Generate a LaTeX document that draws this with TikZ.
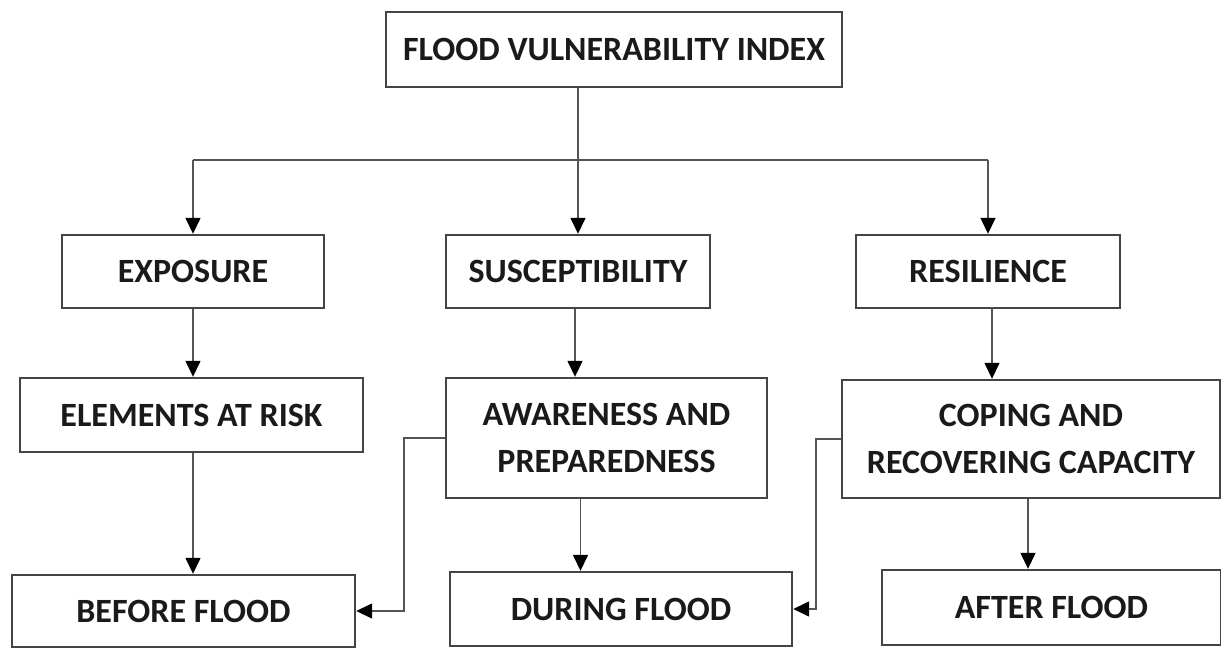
\documentclass[tikz,border=0pt]{standalone}
\usepackage{fontspec}
\setmainfont{Carlito}
\usetikzlibrary{arrows.meta}
\definecolor{boxline}{HTML}{454545}
\definecolor{conn}{HTML}{555555}
\definecolor{txt}{HTML}{1A1A1A}
\begin{document}
\begin{tikzpicture}[x=1pt,y=-1pt,
  box/.style={draw=boxline,line width=2.4pt,fill=white,inner sep=0pt,
    align=center,text=txt,font=\fontsize{34}{47}\selectfont\bfseries},
  arr/.style={draw=conn,line width=1.5pt,-{Triangle[width=15pt,length=16pt,color=black]}},
  ln/.style={draw=conn,line width=1.5pt}]
\useasboundingbox (0,0) rectangle (1221,648);
\fill[white] (0,0) rectangle (1221,648);
% nodes
\node[box,minimum width=456pt,minimum height=75pt] (fvi) at (614,49.5) {FLOOD VULNERABILITY INDEX};
\node[box,minimum width=262pt,minimum height=73pt] (exp) at (193,271.5) {EXPOSURE};
\node[box,minimum width=264pt,minimum height=73pt] (sus) at (578,271.5) {SUSCEPTIBILITY};
\node[box,minimum width=264pt,minimum height=73pt] (res) at (988,271.5) {RESILIENCE};
\node[box,minimum width=343pt,minimum height=74pt] (elem) at (191.5,415) {ELEMENTS AT RISK};
\node[box,minimum width=321pt,minimum height=120pt] (aware) at (606.5,438) {AWARENESS AND\\PREPAREDNESS};
\node[box,minimum width=378pt,minimum height=118pt] (coping) at (1031,439) {COPING AND\\RECOVERING CAPACITY};
\node[box,minimum width=343pt,minimum height=72pt] (before) at (183.5,611) {BEFORE FLOOD};
\node[box,minimum width=342pt,minimum height=74pt] (during) at (621,609) {DURING FLOOD};
\node[box,minimum width=339pt,minimum height=75pt] (after) at (1051.5,607.5) {AFTER FLOOD};
\coordinate (bus) at (0,160);
% tree from index
\draw[ln] (fvi.south -| sus.north) -- (bus -| sus.north);
\draw[ln] (bus -| exp.north) -- (bus -| res.north);
\draw[arr] (bus -| exp.north) -- (exp.north);
\draw[arr] (bus -| sus.north) -- (sus.north);
\draw[arr] (bus -| res.north) -- (res.north);
% vertical chains
\draw[arr] (exp.south) -- (exp.south |- elem.north);
\draw[arr] (elem.south -| exp.south) -- (before.north -| exp.south);
\draw[arr] ([xshift=-3pt]sus.south) -- ([xshift=-3pt]sus.south |- aware.north);
\draw[arr] ([xshift=-26pt]aware.south) -- ([xshift=-26pt]aware.south |- during.north);
\draw[arr] ([xshift=4pt]res.south) -- ([xshift=4pt]res.south |- coping.north);
\draw[arr] ([xshift=-3pt]coping.south) -- ([xshift=-3pt]coping.south |- after.north);
% side connectors
\draw[arr] (aware.west) -- ++(-41,0) |- (before.east);
\draw[arr] (coping.west) -- ++(-25,0) |- (during.east);
\end{tikzpicture}
\end{document}
